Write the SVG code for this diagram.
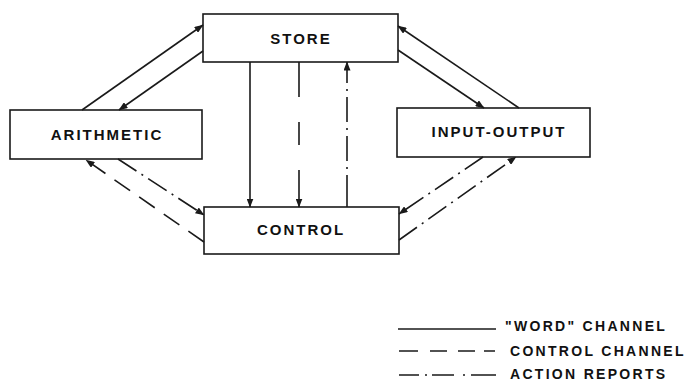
<svg xmlns="http://www.w3.org/2000/svg" width="691" height="382" viewBox="0 0 691 382">
<style>
.box{fill:#fff;stroke:#1a1a1a;stroke-width:1.6}
.lbl{font-family:"Liberation Sans",Arial,sans-serif;font-weight:bold;font-size:15px;letter-spacing:2px;fill:#111;text-anchor:middle}
.leg{font-family:"Liberation Sans",Arial,sans-serif;font-weight:bold;font-size:14px;letter-spacing:2.3px;fill:#111}
.ln{stroke:#1a1a1a;stroke-width:1.6;fill:none}
.dash{stroke-dasharray:19 11}
.dd{stroke-dasharray:22 6 2 6}
.arr{marker-end:url(#ah)}
</style>
<defs>
<marker id="ah" markerUnits="userSpaceOnUse" markerWidth="9" markerHeight="7" refX="8.5" refY="3.5" orient="auto">
<path d="M0,0 L9,3.5 L0,7 z" fill="#1a1a1a"/>
</marker>
</defs>
<g id="store"><rect class="box" x="203" y="14" width="195" height="48"/><text class="lbl" x="301" y="44">STORE</text></g>
<g id="arithmetic"><rect class="box" x="10" y="110" width="192" height="49"/><text class="lbl" x="107" y="140">ARITHMETIC</text></g>
<g id="input-output"><rect class="box" x="397" y="108" width="193" height="49"/><text class="lbl" x="499" y="137">INPUT-OUTPUT</text></g>
<g id="control"><rect class="box" x="204" y="207" width="195" height="47"/><text class="lbl" x="301" y="235">CONTROL</text></g>
<g id="connectors">
<line class="ln arr" x1="82" y1="110" x2="203" y2="25"/>
<line class="ln arr" x1="203" y1="51" x2="119" y2="110"/>
<line class="ln arr" x1="519" y1="108" x2="398" y2="26"/>
<line class="ln arr" x1="398" y1="50" x2="484" y2="108"/>
<line class="ln arr" x1="250" y1="62" x2="250" y2="207"/>
<line class="ln arr" x1="299" y1="62" x2="299" y2="207" style="stroke-dasharray:35 25 23 25 40"/>
<line class="ln arr dd" x1="347" y1="207" x2="347" y2="62" style="stroke-dasharray:32 6 2 6 25 6 2 6 25 6 2 6 25"/>
<line class="ln arr dash" x1="204" y1="242" x2="86" y2="160"/>
<line class="ln arr dd" x1="118" y1="159" x2="204" y2="215"/>
<line class="ln arr dd" x1="483" y1="157" x2="399" y2="214"/>
<line class="ln arr dd" x1="399" y1="240" x2="516" y2="157"/>
</g>
<g id="legend">
<line class="ln" x1="398" y1="329" x2="496" y2="329"/>
<line class="ln" x1="399" y1="351" x2="496" y2="351" style="stroke-dasharray:19 12 17 11 17 9 11"/>
<line class="ln" x1="399" y1="375" x2="496" y2="375" style="stroke-dasharray:20 6 2 5 22 9 2 6 26"/>
<text class="leg" x="505" y="331">"WORD" CHANNEL</text>
<text class="leg" x="510" y="356">CONTROL CHANNEL</text>
<text class="leg" x="510" y="379">ACTION REPORTS</text>
</g>
</svg>
